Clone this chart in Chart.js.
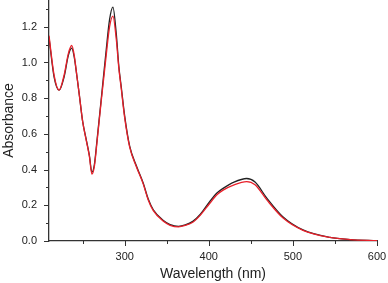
<!DOCTYPE html>
<html>
<head>
<meta charset="utf-8">
<script src="https://cdn.jsdelivr.net/npm/chart.js@4.4.1/dist/chart.umd.min.js"></script>
<style>
  html, body { margin: 0; padding: 0; background: #fff; }
  #wrap { width: 388px; height: 283px; }
</style>
</head>
<body>
<div id="wrap"><canvas id="spectrum" width="388" height="283"></canvas></div>
<script>
// wavelength (nm)
const wavelengths = [210, 216, 222, 228, 233, 237, 240, 243, 246, 250, 254, 258, 261, 264, 267, 272, 278, 282, 286, 290, 293, 296, 300,
  306, 314, 322, 328, 334, 346, 354, 364, 372, 381, 390, 401, 410, 417, 430, 445, 455, 469, 488, 512, 544, 568, 600];
const blackAbs = [1.14, 0.92, 0.845, 0.92, 1.04, 1.08, 1.03, 0.93, 0.82, 0.67, 0.575, 0.48, 0.385, 0.43, 0.56, 0.79, 1.07, 1.24, 1.31, 1.16, 0.98, 0.86, 0.70,
  0.53, 0.42, 0.325, 0.235, 0.175, 0.115, 0.092, 0.082, 0.09, 0.11, 0.15, 0.22, 0.27, 0.295, 0.33, 0.35, 0.33, 0.24, 0.136, 0.062, 0.02, 0.008, 0.002];
const redAbs = [1.15, 0.93, 0.845, 0.93, 1.05, 1.095, 1.04, 0.93, 0.82, 0.67, 0.57, 0.475, 0.375, 0.42, 0.55, 0.78, 1.04, 1.2, 1.26, 1.13, 0.97, 0.85, 0.69,
  0.525, 0.415, 0.32, 0.23, 0.17, 0.11, 0.088, 0.079, 0.087, 0.105, 0.145, 0.21, 0.26, 0.285, 0.315, 0.333, 0.315, 0.23, 0.13, 0.06, 0.02, 0.008, 0.002];

const xTickLabels = [300, 400, 500, 600];
const yTickLabels = [0, 0.2, 0.4, 0.6, 0.8, 1.0, 1.2];

function toPoints(ys) {
  return wavelengths.map((w, i) => ({ x: w, y: ys[i] }));
}

function isLabelled(list, v) {
  return list.some((t) => Math.abs(t - v) < 1e-6);
}

// outward ticks, long ones at labelled values and short ones between
const tickMarks = {
  id: "tickMarks",
  afterDraw(chart) {
    const ctx = chart.ctx;
    const xs = chart.scales.x;
    const ys = chart.scales.y;
    ctx.save();
    ctx.strokeStyle = "#333";
    ctx.lineWidth = 1;
    ctx.beginPath();
    xs.ticks.forEach((t) => {
      const px = Math.round(xs.getPixelForValue(t.value)) + 0.5;
      const len = isLabelled(xTickLabels, t.value) ? 5 : 3;
      ctx.moveTo(px, ys.bottom);
      ctx.lineTo(px, ys.bottom + len);
    });
    ys.ticks.forEach((t) => {
      const py = Math.round(ys.getPixelForValue(t.value)) + 0.5;
      const len = isLabelled(yTickLabels, t.value) ? 5 : 3;
      ctx.moveTo(xs.left, py);
      ctx.lineTo(xs.left - len, py);
    });
    ctx.stroke();
    ctx.restore();
  },
};

const font = "'Liberation Sans', Arial, Helvetica, sans-serif";

new Chart(document.getElementById("spectrum"), {
  type: "line",
  data: {
    datasets: [
      {
        label: "red",
        data: toPoints(redAbs),
        borderColor: "#e8202a",
        borderWidth: 1.3,
        pointRadius: 0,
        cubicInterpolationMode: "monotone",
      },
      {
        label: "black",
        data: toPoints(blackAbs),
        borderColor: "#222",
        borderWidth: 1.3,
        pointRadius: 0,
        cubicInterpolationMode: "monotone",
      },
    ],
  },
  options: {
    responsive: false,
    animation: false,
    layout: { padding: { left: 0, right: 11, top: 0, bottom: 0 } },
    plugins: { legend: { display: false }, tooltip: { enabled: false } },
    scales: {
      x: {
        type: "linear",
        min: 210,
        max: 600,
        afterFit(scale) {
          scale.height = 42;
          scale.paddingLeft = 0;
          scale.paddingRight = 0;
        },
        border: { display: true, color: "#333", width: 1.3 },
        grid: { display: false, drawTicks: false },
        ticks: {
          stepSize: 50,
          includeBounds: false,
          autoSkip: false,
          maxRotation: 0,
          padding: 9,
          color: "#222",
          font: { family: font, size: 11 },
          callback: (v) => (isLabelled(xTickLabels, v) ? String(v) : ""),
        },
        title: {
          display: true,
          text: "Wavelength (nm)",
          color: "#222",
          font: { family: font, size: 14 },
          padding: { top: 0, bottom: 0 },
        },
      },
      y: {
        min: 0,
        max: 1.35,
        afterFit(scale) {
          scale.width = 49;
          scale.paddingTop = 0;
          scale.paddingBottom = 0;
        },
        border: { display: true, color: "#333", width: 1.3 },
        grid: { display: false, drawTicks: false },
        ticks: {
          stepSize: 0.1,
          includeBounds: false,
          autoSkip: false,
          padding: 12,
          color: "#222",
          font: { family: font, size: 11 },
          callback: (v) => (isLabelled(yTickLabels, v) ? v.toFixed(1) : ""),
        },
        title: {
          display: true,
          text: "Absorbance",
          color: "#222",
          font: { family: font, size: 14 },
          padding: { top: 1, bottom: 0 },
        },
      },
    },
  },
  plugins: [tickMarks],
});
</script>
</body>
</html>
